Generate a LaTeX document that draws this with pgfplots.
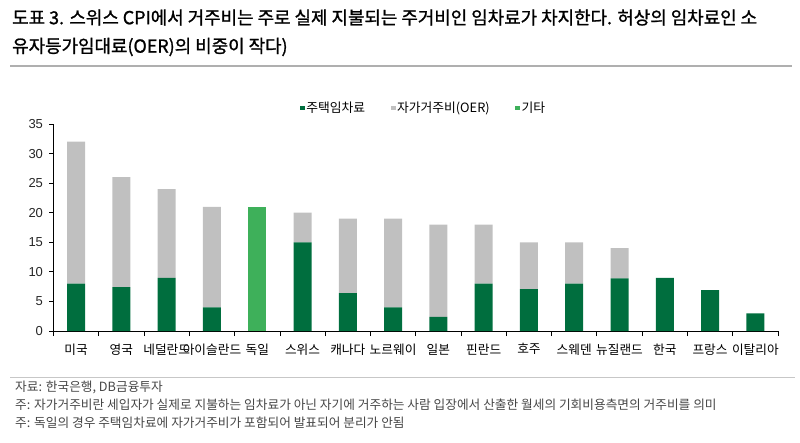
\documentclass[border=0pt]{standalone}
\usepackage{fontspec}
\usepackage{pgfplots}
\usepackage{pgfplotstable}
\pgfplotsset{compat=1.18}
\setmainfont{Noto Sans CJK KR}
\newfontfamily\titlefont{Noto Sans CJK KR}[FakeBold=1.2]
\newfontfamily\numfont{Liberation Sans}
\definecolor{dgreen}{RGB}{0,110,62}
\definecolor{lgray}{RGB}{192,192,192}
\definecolor{lgreen}{RGB}{62,176,90}
\definecolor{rulegray}{RGB}{175,175,175}
\definecolor{fngray}{RGB}{70,70,70}

\pgfplotstableread{
x h oer etc
0 8 24 0
1 7.4 18.6 0
2 9 15 0
3 4 17 0
4 0 0 21
5 15 5 0
6 6.4 12.6 0
7 4 15 0
8 2.4 15.6 0
9 8 10 0
10 7.1 7.9 0
11 8 7 0
12 8.9 5.1 0
13 9 0 0
14 6.9 0 0
15 3 0 0
}\datatable

\pgfplotsset{sqleg/.style={legend image code/.code={\fill[##1] (0pt,-2.4pt) rectangle (4.8pt,2.4pt);}}}

\begin{document}
\begin{tikzpicture}[x=1pt,y=1pt]
\useasboundingbox (0,0) rectangle (800,442);
\node[anchor=west, inner sep=0pt, font=\titlefont\fontsize{17.9}{20}\selectfont] at (12,424.5) {도표 3. 스위스 CPI에서 거주비는 주로 실제 지불되는 주거비인 임차료가 차지한다. 허상의 임차료인 소};
\node[anchor=west, inner sep=0pt, font=\titlefont\fontsize{17.9}{20}\selectfont] at (12,395) {유자등가임대료(OER)의 비중이 작다)};
\draw[rulegray, line width=2pt] (10,376) -- (792,376);
\draw[rulegray!70, line width=0.8pt] (10,65) -- (795,65);
\node[anchor=west, inner sep=0pt, text=fngray, font=\fontsize{12.7}{14}\selectfont] at (15,55) {자료: 한국은행, DB금융투자};
\node[anchor=west, inner sep=0pt, text=fngray, font=\fontsize{12.7}{14}\selectfont] at (15,37) {주: 자가거주비란 세입자가 실제로 지불하는 임차료가 아닌 자기에 거주하는 사람 입장에서 산출한 월세의 기회비용측면의 거주비를 의미};
\node[anchor=west, inner sep=0pt, text=fngray, font=\fontsize{12.7}{14}\selectfont] at (15,19) {주: 독일의 경우 주택임차료에 자가거주비가 포함되어 발표되어 분리가 안됨};
\begin{axis}[
  at={(53.5pt,111pt)}, anchor=south west, scale only axis,
  width=724.5pt, height=207pt,
  xmin=-0.5, xmax=15.5, ymin=0, ymax=35,
  ybar stacked, bar width=18pt,
  axis x line*=bottom, axis y line*=left,
  axis line style={line width=1pt, black},
  tick align=outside,
  xtick={0,...,15},
  xticklabels={미국,영국,네덜란드,아이슬란드,독일,스위스,캐나다,노르웨이,일본,핀란드,호주,스웨덴,뉴질랜드,한국,프랑스,이탈리아},
  major x tick style={draw=none},
  minor xtick={-0.5,0.5,...,15.5},
  minor tick length=5pt,
  minor x tick style={black, line width=0.8pt},
  ytick={0,5,...,35},
  major tick length=4pt,
  y tick style={black, line width=0.8pt},
  xticklabel style={font=\fontsize{12.7}{14}\selectfont, yshift=-5pt},
  yticklabel style={font=\numfont\fontsize{13}{15}\selectfont, xshift=-3pt, text=black!85},
  /pgf/number format/assume math mode=true,
  legend columns=3,
  legend style={draw=none, fill=none, at={(0.340,1.077)}, anchor=west, inner sep=0pt,
    font=\fontsize{12.8}{14}\selectfont,
    /tikz/every even column/.append style={column sep=24pt},
    nodes={inner sep=1.5pt}},
]
\addplot[sqleg, fill=dgreen, draw=none] table[x=x, y=h] {\datatable};
\addplot[sqleg, fill=lgray, draw=none] table[x=x, y=oer] {\datatable};
\addplot[sqleg, fill=lgreen, draw=none] table[x=x, y=etc] {\datatable};
\legend{주택임차료,자가거주비(OER),기타}
\end{axis}
\end{tikzpicture}
\end{document}
